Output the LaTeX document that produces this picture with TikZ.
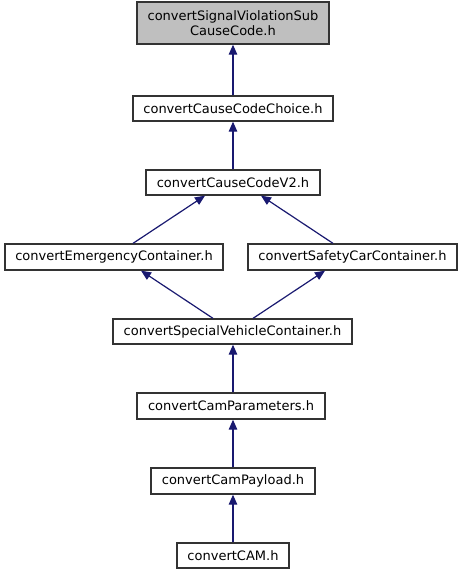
\documentclass[tikz,border=0pt]{standalone}
\usepackage{fontspec}
\setmainfont{DejaVu Sans}
\usetikzlibrary{arrows.meta}
\definecolor{edgecol}{HTML}{191970}
\definecolor{topfill}{HTML}{BFBFBF}
\tikzset{
  box/.style={draw=black!80, line width=1.3pt, fill=white, inner sep=0pt, align=center,
    font=\fontsize{13}{15.5}\selectfont},
  edge/.style={draw=edgecol, line width=1.2pt, -{Triangle[length=10pt,width=8.5pt]}},
}
\begin{document}
\begin{tikzpicture}[x=1pt,y=-1pt]
\useasboundingbox (0,0) rectangle (463,575);
\node[box, fill=topfill, minimum width=192pt, minimum height=42pt] (top) at (233,23) {convertSignalViolationSub\\CauseCode.h};
\node[box, minimum width=200pt, minimum height=25pt] (choice) at (233,108.5) {convertCauseCodeChoice.h};
\node[box, minimum width=174pt, minimum height=25pt] (v2) at (233,182.5) {convertCauseCodeV2.h};
\node[box, minimum width=218pt, minimum height=26pt] (emerg) at (114,257) {convertEmergencyContainer.h};
\node[box, minimum width=209pt, minimum height=26pt] (safety) at (352.5,257) {convertSafetyCarContainer.h};
\node[box, minimum width=239pt, minimum height=25pt] (special) at (232.5,331.5) {convertSpecialVehicleContainer.h};
\node[box, minimum width=188pt, minimum height=26pt] (params) at (231,406) {convertCamParameters.h};
\node[box, minimum width=164pt, minimum height=26pt] (payload) at (233,481) {convertCamPayload.h};
\node[box, minimum width=112pt, minimum height=25pt] (cam) at (233,555.5) {convertCAM.h};

\draw[edge] (choice.north) -- (top.south);
\draw[edge] (v2.north) -- (choice.north |- choice.south);
\draw[edge] ([xshift=19pt]emerg.north) -- ([xshift=-28pt]v2.south);
\draw[edge] ([xshift=-19.5pt]safety.north) -- ([xshift=28pt]v2.south);
\draw[edge] ([xshift=-19.5pt]special.north) -- ([xshift=27pt]emerg.south);
\draw[edge] ([xshift=20.5pt]special.north) -- ([xshift=-27.5pt]safety.south);
\draw[edge] (params.north -| 233,0) -- (special.south -| 233,0);
\draw[edge] (payload.north) -- (payload.north |- params.south);
\draw[edge] (cam.north) -- (payload.south);
\end{tikzpicture}
\end{document}
